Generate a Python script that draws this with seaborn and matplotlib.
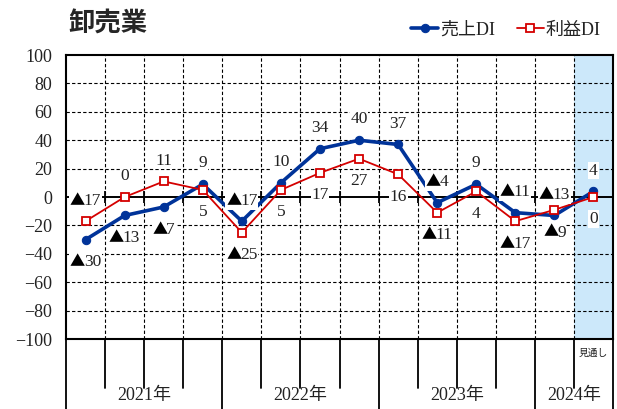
import matplotlib
matplotlib.use('Agg')
import numpy as np
import pandas as pd
import matplotlib.pyplot as plt
import seaborn as sns
from matplotlib.offsetbox import TextArea, HPacker, AnnotationBbox

# 四半期ごとのDI（最後は見通し）
years = ['2021年', '2022年', '2023年', '2024年']
year_counts = [4, 4, 4, 2]
sales_di = [-30, -13, -7, 9, -17, 10, 34, 40, 37, -4, 9, -11, -13, 4]
profit_di = [-17, 0, 11, 5, -25, 5, 17, 27, 16, -11, 4, -17, -9, 0]
forecast_label = '見通し'

# ラベルの置き場所
sales_pos = ['below', 'below', 'below', 'above', 'above', 'above', 'above',
             'above', 'above', 'above', 'above', 'above', 'above', 'above']
profit_pos = ['above', 'above', 'above', 'below', 'below', 'below', 'below',
              'below', 'below', 'below', 'below', 'below', 'below', 'below']

BLUE = '#003399'
RED = '#D40000'
INK = '#222222'
SERIF = ['Liberation Serif', 'Noto Sans CJK JP', 'DejaVu Sans']

sns.set_theme(style='white')
plt.rcParams['font.family'] = SERIF
plt.rcParams['axes.unicode_minus'] = True

n = len(sales_di)
df = pd.DataFrame({'pos': np.arange(n), '売上DI': sales_di, '利益DI': profit_di})

fig = plt.figure(figsize=(6.17, 4.09), dpi=100)
ax = fig.add_axes([0.107, 0.171, 0.8865, 0.6945])

ax.set_xlim(-0.5, n - 0.5)
ax.set_ylim(-100, 100)
ax.axvspan(n - 1.5, n - 0.5, color='#CCE8FA', zorder=0, lw=0)

bounds = np.arange(0.5, n - 0.5, 1.0)
for y in range(-80, 100, 20):
    if y != 0:
        ax.axhline(y, color='black', lw=0.8, ls=(0, (3, 2)), zorder=1)
for b in bounds:
    ax.axvline(b, color='black', lw=0.8, ls=(0, (3, 2)), zorder=1)
ax.axhline(0, color='black', lw=1.4, zorder=2)
ax.plot(bounds, np.zeros_like(bounds), ls='none', marker='|', ms=9,
        mew=1.3, color='black', zorder=2)

sns.lineplot(data=df, x='pos', y='売上DI', ax=ax, color=BLUE, lw=2.6,
             marker='o', ms=7.5, markeredgecolor=BLUE, label='売上DI', zorder=4)
sns.lineplot(data=df, x='pos', y='利益DI', ax=ax, color=RED, lw=1.3,
             marker='s', ms=9, markerfacecolor='white', markeredgecolor=RED,
             mew=1.3, label='利益DI', zorder=5)


def label_box(v):
    num = TextArea(str(abs(v)), textprops=dict(fontsize=12.5, color=INK,
                                                family=SERIF))
    if v >= 0:
        return num
    tri = TextArea('▲', textprops=dict(fontsize=11, color='black',
                                        family=['Noto Sans CJK JP']))
    return HPacker(children=[tri, num], align='baseline', pad=0, sep=-1)


offsets = {'above': (0, 15), 'below': (0, -16)}
for series, places in [(sales_di, sales_pos), (profit_di, profit_pos)]:
    for i, (v, p) in enumerate(zip(series, places)):
        ab = AnnotationBbox(label_box(v), (i, v), xybox=offsets[p],
                            boxcoords='offset points', frameon=True, pad=0.05,
                            box_alignment=(0.5, 0.5),
                            bboxprops=dict(fc='white', ec='none'))
        ab.set_zorder(6)
        ax.add_artist(ab)

ax.set_yticks(range(-100, 101, 20))
ax.set_xticks([])
ax.set_xlabel('')
ax.set_ylabel('')
ax.tick_params(axis='y', length=0, pad=10, labelsize=13, labelcolor=INK)
for s in ax.spines.values():
    s.set_color('black')
    s.set_linewidth(1.5)

# 下の年区切り
tr = ax.get_xaxis_transform()
edges = np.concatenate([[0], np.cumsum(year_counts)]) - 0.5
for b in bounds:
    if b in edges:
        continue
    ax.plot([b, b], [0, -0.1725], transform=tr, color='black', lw=1.3, clip_on=False)
for e in edges:
    ax.plot([e, e], [0, -0.3], transform=tr, color='black', lw=1.3, clip_on=False)
for yr, a, b in zip(years, edges[:-1], edges[1:]):
    ax.text((a + b) / 2, -0.2, yr, transform=tr, ha='center', va='center',
            fontsize=13, color=INK)
ax.text(n - 1, -0.05, forecast_label, transform=tr, ha='center', va='center',
        fontsize=7, color=INK, family=['Noto Sans CJK JP'])

ax.get_legend().remove()
h, l = ax.get_legend_handles_labels()
for hd in h:
    hd.set_markersize(6)
fig.legend(h, l, loc='center', bbox_to_anchor=(0.82, 1 - 30 / 409), ncol=2,
           frameon=False, fontsize=13, handlelength=1.5, columnspacing=1.2,
           handletextpad=0.1, labelcolor=INK)

fig.text(68 / 617, 1 - 24 / 409, '卸売業', fontsize=19, fontweight='bold',
         ha='left', va='center', family=['Noto Sans CJK JP'])

fig.savefig('out.png', dpi=100)
